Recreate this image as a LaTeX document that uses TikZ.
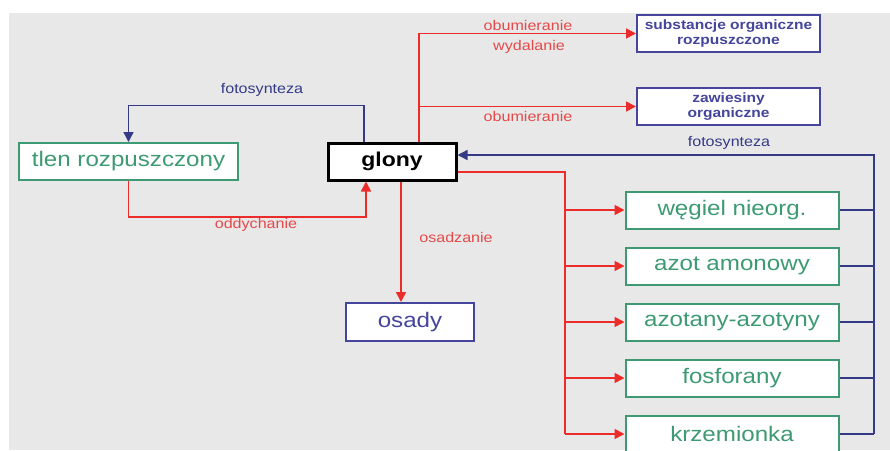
\documentclass[tikz,border=0pt]{standalone}
\usepackage{fontspec}
\setmainfont[FakeStretch=1.15]{Liberation Sans}
\usetikzlibrary{arrows.meta,calc}
\tikzset{>={Triangle[length=10pt,width=10pt]}}
\usepackage{xcolor}
\definecolor{bgcol}{HTML}{E8E8E8}
\definecolor{redcol}{HTML}{EC2B2B}
\definecolor{labred}{HTML}{E44A4A}
\definecolor{navycol}{HTML}{343A86}
\definecolor{boxblue}{HTML}{45459C}
\definecolor{boxgreen}{HTML}{3D9A72}
\tikzstyle{basebox}=[fill=white,line width=2pt,inner sep=0pt,minimum height=37pt,align=center]
\tikzstyle{greenbox}=[basebox,draw=boxgreen,text=boxgreen,minimum width=213pt,
                      font=\fontsize{21}{24}\selectfont]
\tikzstyle{bluebox}=[basebox,draw=boxblue,text=boxblue,minimum width=183pt,
                     font=\bfseries\fontsize{13.5}{15}\selectfont]
\tikzstyle{flow}=[->,redcol,line width=1.6pt]
\tikzstyle{photo}=[->,navycol,line width=1.4pt]
\tikzstyle{redlab}=[text=labred,font=\fontsize{14}{16}\selectfont]
\tikzstyle{bluelab}=[text=navycol,font=\fontsize{14}{16}\selectfont]

\begin{document}
\begin{tikzpicture}[x=1pt,y={(0pt,-1pt)}]
  \useasboundingbox (0,0) rectangle (890,450);
  \fill[bgcol] (9,13) rectangle (890,450);

  % BOXES
  \node[greenbox,minimum width=219pt] (tlen) at (128.5,161.5) {tlen rozpuszczony};
  \node[basebox,draw=black,line width=3pt,minimum width=128pt,
        font=\bfseries\fontsize{20}{24}\selectfont] (glony) at (392,161.5) {glony};
  \node[bluebox] (subst) at (728.5,33.5) {substancje organiczne\\rozpuszczone};
  \node[bluebox] (zaw) at (728.5,106.5) {zawiesiny\\organiczne};
  \node[basebox,draw=boxblue,text=boxblue,minimum width=128pt,minimum height=38pt,
        font=\fontsize{21}{24}\selectfont] (osady) at (410,322) {osady};
  \foreach \txt [count=\i, evaluate={\yy=154+\i*56;}] in
      {węgiel nieorg.,azot amonowy,azotany-azotyny,fosforany,krzemionka}{
    \node[greenbox] (g\i) at (732,\yy) {\txt};
  }

  % OXYGEN LOOP
  \draw[photo] ([xshift=-28pt]glony.north) -- ++(0,-36) -| (tlen.north);
  \draw[flow] (tlen.south) -- ++(0,36) -| ([xshift=-26pt]glony.south);
  \node[bluelab] (lfot) at (262,90) {fotosynteza};
  \node[redlab] (lodd) at (256,225) {oddychanie};

  % ORGANIC MATTER
  \coordinate (up) at ([xshift=27pt]glony.north);
  \draw[flow] (up) |- (subst.west);
  \draw[flow] (up |- zaw.west) -- (zaw.west);
  \node[redlab] (lob1) at (528,25) {obumieranie};
  \node[redlab] (lwyd) at (529,47) {wydalanie};
  \node[redlab] (lob2) at (528,116) {obumieranie};

  % SEDIMENT
  \coordinate (dn) at ([xshift=9pt]glony.south);
  \draw[flow] (dn) -- (dn |- osady.north);
  \node[redlab] (losa) at (456,237) {osadzanie};

  % NUTRIENTS
  \coordinate (rout) at ($(glony.east)+(0,10.5)$);
  \coordinate (bus) at (565,0);
  \draw[flow,-] (rout) -| (bus |- g5.west);
  \foreach \i in {1,...,5}{
    \draw[flow] (bus |- g\i.west) -- (g\i.west);
  }
  \coordinate (rin) at ($(glony.east)+(0,-6.5)$);
  \coordinate (ret) at (874,0);
  \foreach \i in {1,...,5}{
    \draw[photo,-] (g\i.east) -- (ret |- g\i.east);
  }
  \draw[photo] (ret |- g5.east) -- (ret |- rin) -- (rin);
  \node[bluelab] (lfot2) at (729,143) {fotosynteza};

\end{tikzpicture}
\end{document}
